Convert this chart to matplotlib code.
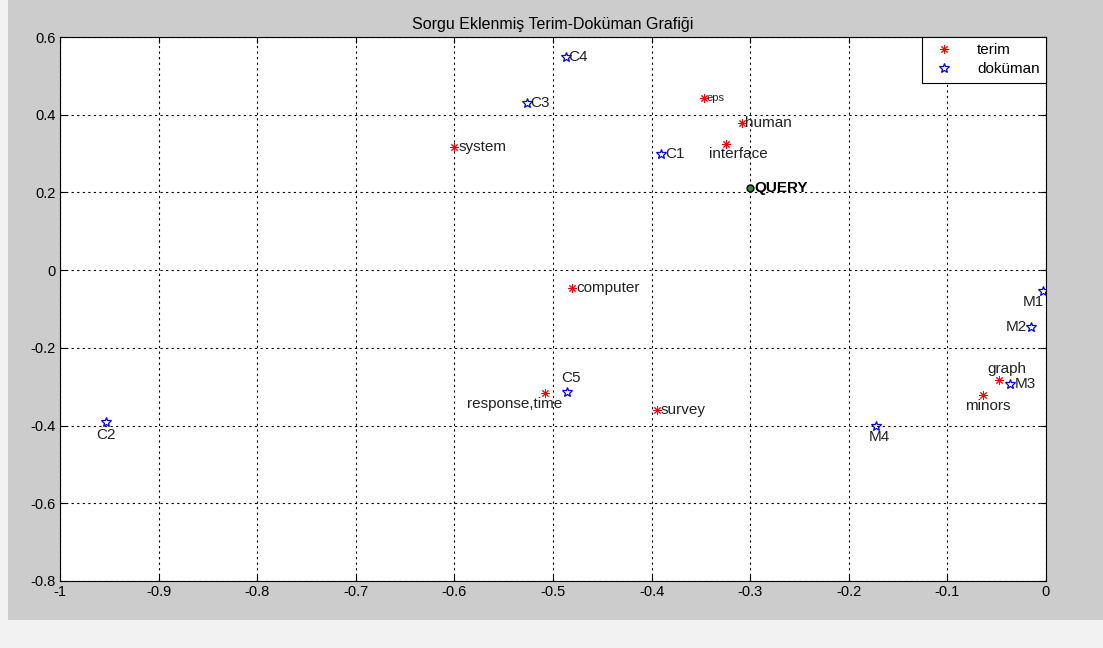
import numpy as np
import matplotlib
matplotlib.use("Agg")
import matplotlib.pyplot as plt
from matplotlib.patches import Rectangle

plt.rcParams['font.family'] = ['Liberation Sans', 'DejaVu Sans']

# terms (red)
term_names = ["eps", "human", "system", "interface", "computer", "graph", "minors", "response,time", "survey"]
term_x = [-0.347, -0.308, -0.600, -0.325, -0.481, -0.048, -0.064, -0.508, -0.395]
term_y = [0.443, 0.379, 0.317, 0.325, -0.046, -0.283, -0.321, -0.316, -0.360]

# documents (blue)
doc_names = ["C1", "C2", "C3", "C4", "C5", "M1", "M2", "M3", "M4"]
doc_x = [-0.390, -0.953, -0.526, -0.487, -0.486, -0.003, -0.015, -0.037, -0.172]
doc_y = [0.299, -0.391, 0.430, 0.549, -0.314, -0.054, -0.146, -0.293, -0.401]

# query
query_x = -0.300
query_y = 0.211

# label placement (offset points, ha, va)
term_off = {
    "eps": (2, 0, 'left', 'center'),
    "human": (2, 0, 'left', 'center'),
    "system": (3, 0, 'left', 'center'),
    "interface": (-12, -2, 'left', 'top'),
    "computer": (3, 0, 'left', 'center'),
    "graph": (20, 3, 'right', 'bottom'),
    "minors": (20, -3, 'right', 'top'),
    "response,time": (12, -3, 'right', 'top'),
    "survey": (3, 0, 'left', 'center'),
}
doc_off = {
    "C1": (3, 0, 'left', 'center'),
    "C2": (0, -4, 'center', 'top'),
    "C3": (2, 0, 'left', 'center'),
    "C4": (2, 0, 'left', 'center'),
    "C5": (3, 5, 'center', 'bottom'),
    "M1": (1, -3, 'right', 'top'),
    "M2": (-3, 0, 'right', 'center'),
    "M3": (4, 0, 'left', 'center'),
    "M4": (2, -3, 'center', 'top'),
}

fig = plt.figure(figsize=(11.03, 6.48), dpi=100, facecolor='#cccccc')
fig.patches.append(Rectangle((0, 0), 1, 28/648, transform=fig.transFigure,
                             facecolor='#f2f2f2', edgecolor='none', zorder=0))
fig.patches.append(Rectangle((0, 0), 8/1103, 1, transform=fig.transFigure,
                             facecolor='#f2f2f2', edgecolor='none', zorder=0))
ax = fig.add_axes([60/1103, 1-581/648, 986/1103, 544/648])
ax.set_facecolor('white')

ast = (8, 2, 0)
ax.plot(term_x, term_y, linestyle='none', marker=ast, color='red', markersize=6,
        markeredgewidth=0.7, label='terim')
ax.plot(doc_x, doc_y, linestyle='none', marker='*', markerfacecolor='none',
        markeredgecolor='blue', markersize=7, markeredgewidth=0.9, label='doküman')
ax.plot([query_x], [query_y], linestyle='none', marker='o', markerfacecolor='#2e8b3a',
        markeredgecolor='black', markersize=5, markeredgewidth=1.0)

for n, x, y in zip(term_names, term_x, term_y):
    dx, dy, ha, va = term_off[n]
    fs = 8 if n == "eps" else 11
    ax.annotate(n, (x, y), xytext=(dx, dy), textcoords='offset points',
                ha=ha, va=va, fontsize=fs, color='#222222')
for n, x, y in zip(doc_names, doc_x, doc_y):
    dx, dy, ha, va = doc_off[n]
    ax.annotate(n, (x, y), xytext=(dx, dy), textcoords='offset points',
                ha=ha, va=va, fontsize=11, color='#222222')
ax.annotate("QUERY", (query_x, query_y), xytext=(3, 0), textcoords='offset points',
            ha='left', va='center', fontsize=11, fontweight='bold', color='black')

ax.set_xlim(-1, 0)
ax.set_ylim(-0.8, 0.6)
ax.set_xticks(np.arange(-1, 0.01, 0.1))
ax.set_yticks(np.arange(-0.8, 0.61, 0.2))
ax.set_xticklabels(["-1", "-0.9", "-0.8", "-0.7", "-0.6", "-0.5", "-0.4", "-0.3", "-0.2", "-0.1", "0"])
ax.set_yticklabels(["-0.8", "-0.6", "-0.4", "-0.2", "0", "0.2", "0.4", "0.6"])
ax.tick_params(direction='in', length=4, labelsize=10.5, pad=3, top=True, right=True,
               labeltop=False, labelright=False)
ax.grid(True, linestyle=(0, (2, 3)), color='black', linewidth=0.8)
for s in ax.spines.values():
    s.set_linewidth(0.8)

ax.set_title("Sorgu Eklenmiş Terim-Doküman Grafiği", fontsize=11.5, pad=6)

leg = ax.legend(loc='upper right', borderaxespad=0, fancybox=False, edgecolor='black',
                framealpha=1, fontsize=11, handletextpad=1.2, borderpad=0.4,
                labelspacing=0.35)
leg.get_frame().set_linewidth(0.8)

fig.savefig("out.png", dpi=100, facecolor=fig.get_facecolor())
